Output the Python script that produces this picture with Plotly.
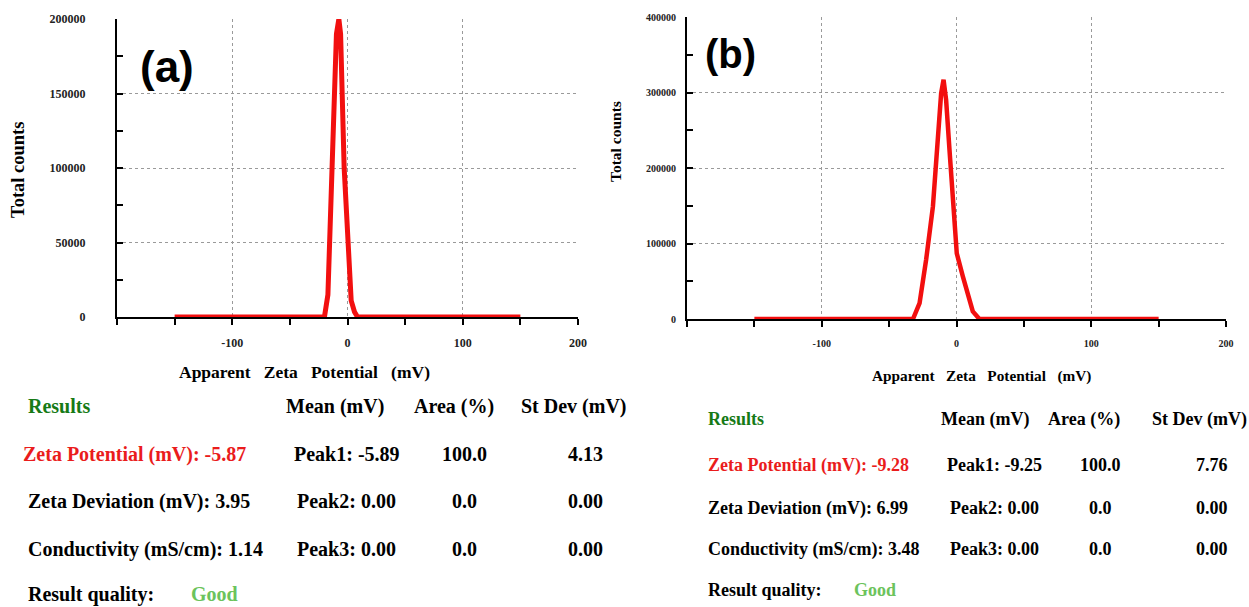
import plotly.graph_objects as go

# ---------------- data ----------------
# (a) zeta potential distribution
zeta_a_mv = [-150, -20, -17, -13.3, -9.6, -7.5, -6, -2.9, 0.9, 3.2, 6.1, 8.7, 150]
counts_a = [0, 0, 15000, 100000, 190000, 200000, 190000, 100000, 34000, 11000, 3400, 0, 0]
# (b) zeta potential distribution
zeta_b_mv = [-150, -32.3, -27.4, -22.5, -17.5, -13.8, -11.4, -9.6, -7.7, -5.2, -2.7, 0.2, 4.7, 8.4, 12.1, 17, 150]
counts_b = [0, 0, 21000, 79000, 149000, 246000, 299000, 317000, 290000, 224000, 149000, 87000, 56500, 34400, 10000, 0, 0]

x_tickvals = [-100, 0, 100, 200]
x_ticktext = ["-100", "0", "100", "200"]
y_tickvals_a = [0, 50000, 100000, 150000, 200000]
y_ticktext_a = ["0", "50000", "100000", "150000", "200000"]
y_tickvals_b = [0, 100000, 200000, 300000, 400000]
y_ticktext_b = ["0", "100000", "200000", "300000", "400000"]

# results tables
zeta_potential = [-5.87, -9.28]
zeta_deviation = [3.95, 6.99]
conductivity = [1.14, 3.48]
peak_means = [[-5.89, 0.00, 0.00], [-9.25, 0.00, 0.00]]
peak_areas = [[100.0, 0.0, 0.0], [100.0, 0.0, 0.0]]
peak_stdev = [[4.13, 0.00, 0.00], [7.76, 0.00, 0.00]]
result_quality = ["Good", "Good"]
panel_labels = ["(a)", "(b)"]

# ---------------- figure ----------------
W, H = 1249, 607
RED = "#f20f0f"
SERIF = "Liberation Serif"


def px(x):
    return x / W


def py(y):
    return 1 - y / H


fig = go.Figure()
fig.add_trace(go.Scatter(x=zeta_a_mv, y=counts_a, mode="lines", xaxis="x", yaxis="y",
                         line=dict(color=RED, width=5), cliponaxis=False, showlegend=False))
fig.add_trace(go.Scatter(x=zeta_b_mv, y=counts_b, mode="lines", xaxis="x2", yaxis="y2",
                         line=dict(color=RED, width=4.5), cliponaxis=False, showlegend=False))

grid = dict(showgrid=True, gridcolor="#9a9a9a", griddash="dot", gridwidth=1, zeroline=False,
            showline=True, linecolor="black", linewidth=2, automargin=False)


def xaxis(domain, anchor, fs, standoff):
    return dict(domain=domain, anchor=anchor, range=[-200, 200], tickmode="array",
                tickvals=x_tickvals, ticktext=x_ticktext,
                ticks="outside", ticklen=6, tickwidth=1.5, tickcolor="black",
                minor=dict(dtick=50, tick0=-200, ticks="outside", ticklen=6, tickwidth=1.5, tickcolor="black",
                           showgrid=False),
                tickfont=dict(family=SERIF, size=fs, color="#222", weight="bold"),
                ticklabelstandoff=standoff, **grid)


def yaxis(domain, anchor, rng, vals, txt, minor_dt, fs, standoff):
    return dict(domain=domain, anchor=anchor, range=rng, tickmode="array", tickvals=vals, ticktext=txt,
                ticks="inside", ticklen=6, tickwidth=1.5, tickcolor="black",
                minor=dict(dtick=minor_dt, tick0=0, ticks="inside", ticklen=6, tickwidth=1.5, tickcolor="black",
                           showgrid=False),
                tickfont=dict(family=SERIF, size=fs, color="#222", weight="bold"),
                ticklabelstandoff=standoff, **grid)


fig.update_layout(
    width=W, height=H, margin=dict(l=0, r=0, t=0, b=0, autoexpand=False),
    plot_bgcolor="white", paper_bgcolor="white",
    xaxis=xaxis([px(117), px(578)], "y", 12, 8),
    yaxis=yaxis([py(317), py(19)], "x", [0, 200000], y_tickvals_a, y_ticktext_a, 25000, 12, 27),
    xaxis2=xaxis([px(687), px(1226)], "y2", 10, 8),
    yaxis2=yaxis([py(319), py(17)], "x2", [0, 400000], y_tickvals_b, y_ticktext_b, 50000, 10, 7),
)

ann = []


def text(x, y, s, size, color="black", anchor="left", family=SERIF, angle=0):
    ann.append(dict(x=px(x), y=py(y), xref="paper", yref="paper", text=s, showarrow=False,
                    xanchor=anchor, yanchor="middle", textangle=angle, borderpad=0,
                    font=dict(family=family, size=size, color=color, weight="bold")))


GAP = "\u00a0\u00a0 "
xtitle = f"Apparent{GAP}Zeta{GAP}Potential{GAP}(mV)"
# axis titles
text(304, 372, xtitle, 17.5, anchor="center")
text(18, 170, "Total counts", 18.5, anchor="center", angle=-90)
text(981, 376, xtitle, 15.3, anchor="center")
text(615, 142, "Total counts", 15.5, anchor="center", angle=-90)
# panel labels
text(167, 66, panel_labels[0], 44, anchor="center", family="Liberation Sans")
text(730, 54, panel_labels[1], 40, anchor="center", family="Liberation Sans")

GREEN = "#167a16"
LGREEN = "#6cc35c"
TRED = "#ea1c1c"

tables = [
    dict(fs=20, rows=[406, 454, 501, 549, 594], xl=27, xzl=22, xmean=285, xarea=413, xsd=520,
         xpeak=[293, 296, 296], xac=464, xsc=585, xgood=190),
    dict(fs=18, rows=[419, 465, 508, 549, 590], xl=707, xzl=707, xmean=940, xarea=1047, xsd=1151,
         xpeak=[946, 949, 949], xac=1100, xsc=1212, xgood=853),
]
for i, t in enumerate(tables):
    fs, r = t["fs"], t["rows"]
    text(t["xl"], r[0], "Results", fs, GREEN)
    text(t["xmean"], r[0], "Mean (mV)", fs)
    text(t["xarea"], r[0], "Area (%)", fs)
    text(t["xsd"], r[0], "St Dev (mV)", fs)
    text(t["xzl"], r[1], f"Zeta Potential (mV): {zeta_potential[i]:.2f}", fs, TRED)
    text(t["xl"], r[2], f"Zeta Deviation (mV): {zeta_deviation[i]:.2f}", fs)
    text(t["xl"], r[3], f"Conductivity (mS/cm): {conductivity[i]:.2f}", fs)
    for k in range(3):
        text(t["xpeak"][k], r[k + 1], f"Peak{k + 1}: {peak_means[i][k]:.2f}", fs)
        text(t["xac"], r[k + 1], f"{peak_areas[i][k]:.1f}", fs, anchor="center")
        text(t["xsc"], r[k + 1], f"{peak_stdev[i][k]:.2f}", fs, anchor="center")
    text(t["xl"], r[4], "Result quality:", fs)
    text(t["xgood"], r[4], result_quality[i], fs, LGREEN)

fig.update_layout(annotations=ann)
fig.write_html("out.html", config={"displayModeBar": False},
               post_script="document.body.style.margin='0';")
